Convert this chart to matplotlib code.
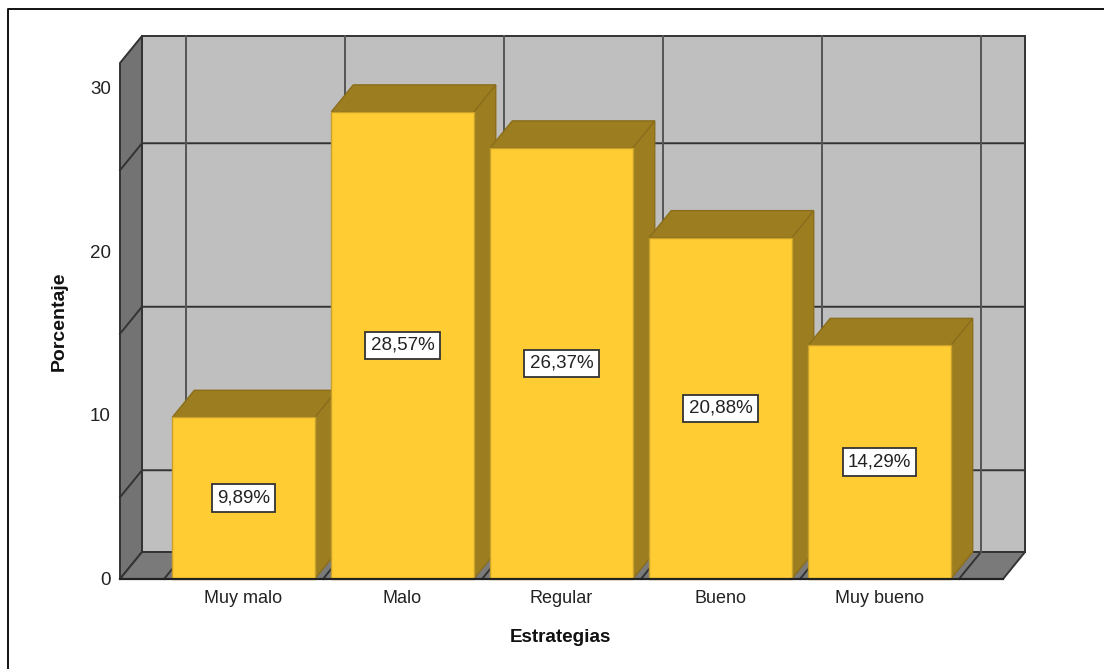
import matplotlib
matplotlib.use("Agg")
import matplotlib.pyplot as plt
from matplotlib.patches import Polygon, Rectangle
from matplotlib.lines import Line2D

plt.rcParams['font.family'] = ['Liberation Sans', 'DejaVu Sans']

categories = ["Muy malo", "Malo", "Regular", "Bueno", "Muy bueno"]
values = [9.89, 28.57, 26.37, 20.88, 14.29]
labels = ["9,89%", "28,57%", "26,37%", "20,88%", "14,29%"]
y_ticks = [0, 10, 20, 30]
wall_lines = [5, 15, 25]

W, H = 1104, 669
fig = plt.figure(figsize=(W / 100, H / 100), dpi=100)
ax = fig.add_axes([120 / W, 1 - 579 / H, (1003 - 120) / W, (579 - 63) / H])
xmin, xmax = -0.777, 4.777
ymax = 31.56
ax.set_xlim(xmin, xmax)
ax.set_ylim(0, ymax)
ax.axis("off")

# depth of the fake 3d box, in data units
dx = 22 / 159
dy = 27 / 16.35
bar_w = 142.5 / 159
line_col = "#333333"
text_col = "#222222"


def poly(pts, fc, ec=line_col, lw=1.4, z=1):
    ax.add_patch(Polygon(pts, closed=True, fc=fc, ec=ec, lw=lw, zorder=z, clip_on=False))


def line(xs, ys, col=line_col, lw=1.4, z=2):
    ax.add_line(Line2D(xs, ys, color=col, lw=lw, zorder=z, clip_on=False))


# walls and floor
poly([(xmin + dx, dy), (xmax + dx, dy), (xmax + dx, ymax + dy), (xmin + dx, ymax + dy)], "#BFBFBF")
poly([(xmin, 0), (xmin + dx, dy), (xmin + dx, ymax + dy), (xmin, ymax)], "#737373")
poly([(xmin, 0), (xmax, 0), (xmax + dx, dy), (xmin + dx, dy)], "#7A7A7A")

for v in wall_lines:
    line([xmin, xmin + dx, xmax + dx], [v, v + dy, v + dy])
for i in range(len(categories) + 1):
    x = i - 0.5
    line([x, x + dx], [0, dy])
    line([x + dx, x + dx], [dy, ymax + dy], col="#555555")

# bars
for i, v in enumerate(values):
    l = i - bar_w / 2
    r = i + bar_w / 2
    poly([(r, 0), (r + dx, dy), (r + dx, v + dy), (r, v)], "#9C7D20", ec="#8A6E1C", lw=1, z=3)
    poly([(l, v), (r, v), (r + dx, v + dy), (l + dx, v + dy)], "#9C7D20", ec="#8A6E1C", lw=1, z=3)
    ax.add_patch(Rectangle((l, 0), bar_w, v, fc="#FFCC33", ec="#C9A02A", lw=1, zorder=3, clip_on=False))
    ax.text(i, v / 2, labels[i], ha="center", va="center", fontsize=13.5, color=text_col, zorder=5,
            bbox=dict(boxstyle="square,pad=0.28", fc="white", ec="#333333", lw=1.3))

line([xmin, xmax], [0, 0], col="#222222", lw=1.6, z=4)

for i, c in enumerate(categories):
    ax.annotate(c, (i, 0), xytext=(0, -17), textcoords="offset points", ha="center", va="baseline",
                fontsize=13, color=text_col, annotation_clip=False)
for v in y_ticks:
    ax.annotate(str(v), (xmin, v), xytext=(-6.5, -1), textcoords="offset points", ha="right", va="center",
                fontsize=13.5, color=text_col, annotation_clip=False)

fig.text(560 / W, 1 - 637 / H, "Estrategias", ha="center", va="center", fontsize=13.6, fontweight="bold",
         color="#111111")
fig.text(59 / W, 1 - 321 / H, "Porcentaje", ha="center", va="center", rotation=90, fontsize=14,
         fontweight="bold", color="#111111")

# outer frame, cut by the image edge on the right and bottom
fig.add_artist(Line2D([8 / W, 8 / W, 1], [0, 1 - 9 / H, 1 - 9 / H], color="#111111", lw=1.4))

fig.savefig("out.png", dpi=100)
